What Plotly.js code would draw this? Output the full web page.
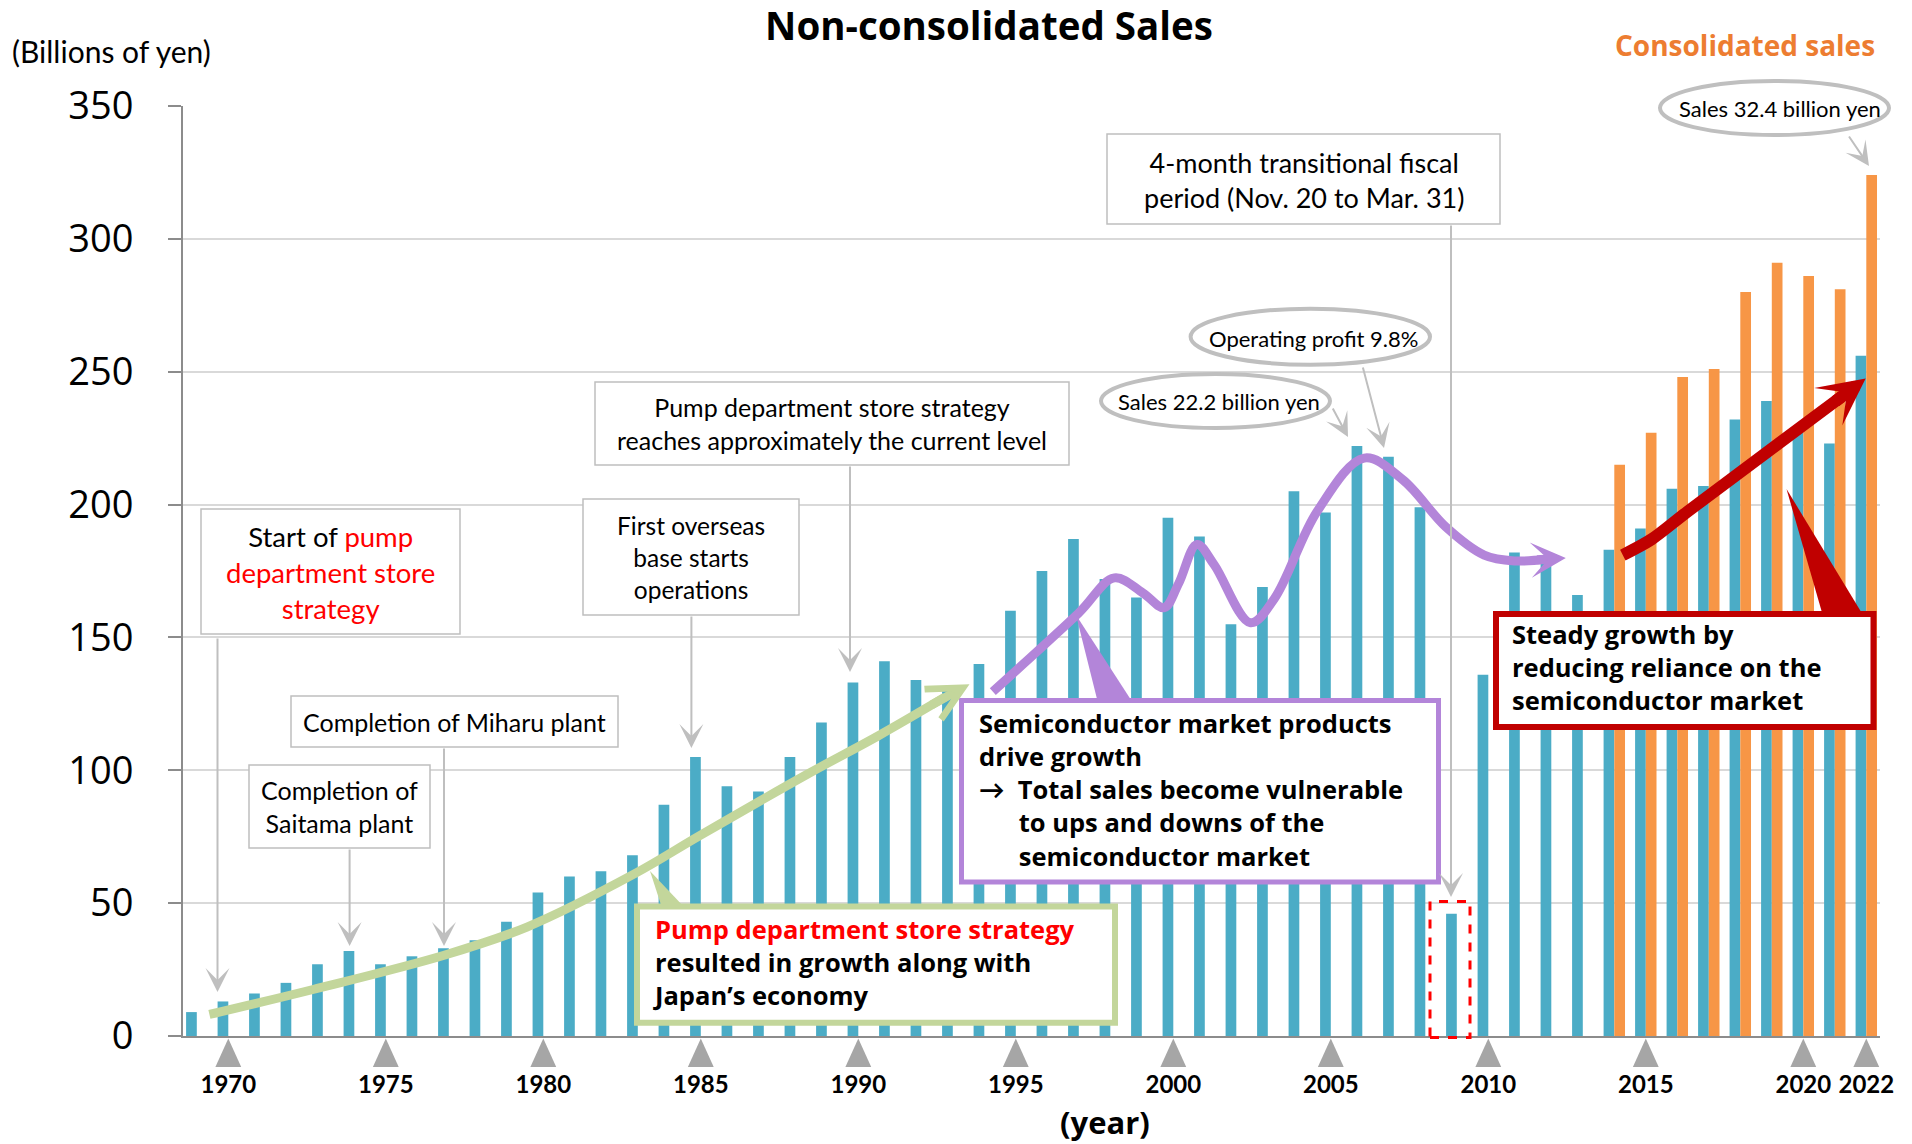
<!DOCTYPE html>
<html><head><meta charset="utf-8">
<script src="https://cdn.plot.ly/plotly-3.0.1.min.js"></script>
<style>html,body{margin:0;padding:0;background:#fff;} #chart{width:1912px;height:1144px;}</style>
</head><body><div id="chart"></div>
<script>
// ---- data ----
const years = [1969,1970,1971,1972,1973,1974,1975,1976,1977,1978,1979,1980,1981,1982,1983,1984,1985,1986,1987,1988,1989,1990,1991,1992,1993,1994,1995,1996,1997,1998,1999,2000,2001,2002,2003,2004,2005,2006,2007,2008,2009,2010,2011,2012,2013,2014,2015,2016,2017,2018,2019,2020,2021,2022];
const nonConsolidatedSales = [9,13,16,20,27,32,27,30,33,36,43,54,60,62,68,87,105,94,92,105,118,133,141,134,131,140,160,175,187,172,165,195,188,155,169,205,197,222,218,199,46,136,182,181,166,183,191,206,207,232,239,228,223,256];
const consolidatedYears = [2014,2015,2016,2017,2018,2019,2020,2021,2022];
const consolidatedSales = [215,227,248,251,280,291,286,281,324];
const tickYears = [1970,1975,1980,1985,1990,1995,2000,2005,2010,2015,2020,2022];
const tickLabels = ['1970','1975','1980','1985','1990','1995','2000','2005','2010','2015','2020','2022'];
const yTicks = [0,50,100,150,200,250,300,350];

// decorative trend arrows (year, value)
const greenTrendX = [1969.40,1972.69,1976.88,1979.48,1982.89,1984.98,1988.38,1990.64,1992.75];
const greenTrendY = [8.1,17.5,30.5,41.0,61.0,75.5,98.5,113.0,127.5];
const purpleTrendX = [1994.27,1996.99,1998.13,1999.03,1999.71,2000.17,2000.75,2001.30,2002.45,2003.21,2004.57,2006.06,2007.29,2008.65,2009.87,2010.83,2011.83];
const purpleTrendY = [129.6,159.1,172.4,166.8,161.2,170.3,185.0,177.3,155.5,164.6,197.5,217.5,209.3,191.6,181.0,178.8,179.4];
const redTrendX = [2014.27,2015.18,2016.34,2021.21];
const redTrendY = [181.0,186.9,197.5,240.6];

// ---- layout helpers (pixel -> paper) ----
const L = 183, R = 1880, T = 106, B = 1036;
const PX = v => (v - L) / (R - L);
const PY = v => (B - v) / (B - T);

const FONT = 'Lato, "Open Sans", sans-serif';
const BOLDFONT = '"Open Sans", Lato, sans-serif';
const GRAY = '#bfbfbf';
const PURPLE = '#b385d9';
const GREEN = '#c3d69b';
const DARKRED = '#c00000';
const RED = '#ff0000';
const NB = '\u00a0';

const traces = [
  {type:'bar', x:years, y:nonConsolidatedSales, marker:{color:'#4bacc6'}, hoverinfo:'skip', name:'Non-consolidated'},
  {type:'bar', x:consolidatedYears, y:consolidatedSales, marker:{color:'#f79646'}, hoverinfo:'skip', name:'Consolidated'},
  {type:'scatter', mode:'lines', x:greenTrendX, y:greenTrendY, line:{color:GREEN, width:9, shape:'spline', smoothing:1}, hoverinfo:'skip'},
  {type:'scatter', mode:'lines', x:purpleTrendX, y:purpleTrendY, line:{color:PURPLE, width:9, shape:'spline', smoothing:1}, hoverinfo:'skip'},
  {type:'scatter', mode:'lines', x:redTrendX, y:redTrendY, line:{color:DARKRED, width:12, shape:'spline', smoothing:0.8}, hoverinfo:'skip'}
];

function rect(x0,y0,x1,y1,color,width,fill,dash){
  return {type:'rect', xref:'paper', yref:'paper', x0:PX(x0), x1:PX(x1), y0:PY(y1), y1:PY(y0),
    line:{color:color, width:width, dash:dash||'solid'}, fillcolor:fill||'rgba(0,0,0,0)', layer:'above'};
}
function ellipse(x0,y0,x1,y1){
  return {type:'circle', xref:'paper', yref:'paper', x0:PX(x0), x1:PX(x1), y0:PY(y1), y1:PY(y0),
    line:{color:GRAY, width:4}, fillcolor:'white', layer:'above'};
}
function tri(p, color){
  return {type:'path', xref:'paper', yref:'paper', layer:'above', line:{width:0}, fillcolor:color,
    path:'M'+p.map(q=>PX(q[0])+','+PY(q[1])).join('L')+'Z'};
}

const shapes = [
  rect(201,509,460,634,GRAY,1.5,'white'),
  rect(291,696,618,747,GRAY,1.5,'white'),
  rect(249,765,430,848,GRAY,1.5,'white'),
  rect(583,499,799,615,GRAY,1.5,'white'),
  rect(595,382,1069,465,GRAY,1.5,'white'),
  rect(1107,134,1500,224,GRAY,1.5,'white'),
  ellipse(1101,374,1330,428),
  ellipse(1190.6,308.7,1430,364.7),
  ellipse(1660,81,1889,135),
  rect(1430,901.5,1470,1037.5,'#ff0000',3,null,'dash'),
  tri([[1076,615],[1098,703],[1133,703]], PURPLE),
  tri([[650,871],[662,908],[685,908]], GREEN),
  tri([[1786.5,489],[1823,616],[1863.6,616]], DARKRED),
  rect(961.5,700.5,1438.5,882,PURPLE,5,'white'),
  rect(637,906.6,1115,1022.7,GREEN,6,'white'),
  rect(1496,614,1873.5,727,DARKRED,6,'white')
];
// tick triangles under the x axis
tickYears.forEach(yr => {
  shapes.push({type:'path', xref:'x', yref:'paper', layer:'above', line:{width:0}, fillcolor:'#a6a6a6',
    path:'M'+(yr-0.41)+','+PY(1067)+'L'+(yr+0.41)+','+PY(1067)+'L'+yr+','+PY(1038.5)+'Z'});
});

function txt(text,x,y,size,opts){
  return Object.assign({text:text, xref:'paper', yref:'paper', x:PX(x), y:PY(y), showarrow:false,
    xanchor:'center', yanchor:'middle', align:'center', font:{family:FONT, size:size, color:'#000'}}, opts||{});
}
function bold(text,x,y,size,color,anchor){
  return {text:text, xref:'paper', yref:'paper', x:PX(x), y:PY(y), showarrow:false,
    xanchor:anchor||'left', yanchor:'middle', align:'left',
    font:{family:BOLDFONT, size:size, color:color||'#000', weight:'bold'}};
}
function grayArrow(x,y,ax,ay){
  return {text:'', xref:'paper', yref:'paper', x:PX(x), y:PY(y), ax:ax, ay:ay, showarrow:true,
    arrowhead:3, arrowsize:2, arrowwidth:2, arrowcolor:GRAY};
}
function dataArrow(tail, tip, color, width, head, size){
  return {text:'', xref:'x', yref:'y', axref:'x', ayref:'y', x:tip[0], y:tip[1], ax:tail[0], ay:tail[1],
    showarrow:true, arrowhead:head, arrowsize:size, arrowwidth:width, arrowcolor:color};
}

const annotations = [
  txt('(Billions of yen)', 10, 51, 30, {xanchor:'left'}),
  bold('Consolidated sales', 1877, 45, 28, '#ed7d31', 'right'),
  bold('(year)', 1105, 1122, 31, '#000', 'center'),
  txt('Start of <span style="color:'+RED+'">pump</span><br><span style="color:'+RED+'">department store</span><br><span style="color:'+RED+'">strategy</span>', 330.5, 572, 27.5),
  txt('Completion of Miharu plant', 454.5, 721.5, 25),
  txt('Completion of<br>Saitama plant', 339.5, 806, 25),
  txt('First overseas<br>base starts<br>operations', 691, 557, 24.5),
  txt('Pump department store strategy<br>reaches approximately the current level', 832, 423.5, 25),
  txt('4-month transitional fiscal<br>period (Nov. 20 to Mar. 31)', 1303.5, 180, 27),
  txt('Sales 22.2 billion yen', 1219, 402, 22),
  txt('Operating profit 9.8%', 1313, 338, 22),
  txt('Sales 32.4 billion yen', 1780, 108, 22),
  // purple callout
  bold('Semiconductor market products<br>drive growth<br>→'+NB+NB+'Total sales become vulnerable<br>'+NB.repeat(6)+'to ups and downs of the<br>'+NB.repeat(6)+'semiconductor market', 977, 789, 25.5),
  // green callout
  bold('<span style="color:'+RED+'">Pump department store strategy</span><br>resulted in growth along with<br>Japan’s economy', 651, 962.1, 25.5),
  // red callout
  bold('Steady growth by<br>reducing reliance on the<br>semiconductor market', 1509.6, 667, 25.5),
  grayArrow(217.5, 992, 0, -355),
  grayArrow(444, 946, 0, -199),
  grayArrow(349.6, 946, 0, -98),
  grayArrow(691.4, 748, 0, -133),
  grayArrow(850, 672, 0, -207),
  grayArrow(1451, 897, 0, -673),
  grayArrow(1348, 437, -16, -30),
  grayArrow(1384, 448, -21.5, -82),
  grayArrow(1869, 166, -21, -31),
  dataArrow([1992.28,124.3],[1993.53,132.4], GREEN, 9, 5, 0.75),
  dataArrow([2011.5,179.2],[2012.46,179.9], PURPLE, 9, 3, 0.65),
  dataArrow([2020.97,238.4],[2021.98,247.4], DARKRED, 12, 3, 0.65)
];

const layout = {
  width:1912, height:1144,
  margin:{l:L, r:1912-R, t:T, b:1144-B},
  paper_bgcolor:'#ffffff', plot_bgcolor:'#ffffff',
  barmode:'group', bargap:0.32, bargroupgap:0,
  showlegend:false,
  font:{family:FONT, color:'#000'},
  title:{text:'Non-consolidated Sales', font:{family:BOLDFONT, size:38.5, color:'#000', weight:'bold'},
         x:989/1912, xanchor:'center', xref:'container', y:1-27/1144, yanchor:'middle', yref:'container'},
  xaxis:{range:[1968.562,2022.435], tickmode:'array', tickvals:tickYears, ticktext:tickLabels, ticks:'',
         showgrid:false, zeroline:false, showline:true, linecolor:'#8c8c8c', linewidth:2,
         tickfont:{family:FONT, size:24, color:'#000', weight:'bold'}, ticklabelstandoff:26},
  yaxis:{range:[0,350], tickmode:'array', tickvals:yTicks, showgrid:true, gridcolor:'#d9d9d9', gridwidth:2,
         zeroline:false, showline:true, linecolor:'#8c8c8c', linewidth:2, ticks:'outside', ticklen:13,
         tickwidth:2, tickcolor:'#8c8c8c', tickfont:{family:'"Open Sans", sans-serif', size:38, color:'#000'},
         ticklabelstandoff:27},
  shapes:shapes,
  annotations:annotations
};

Plotly.newPlot('chart', traces, layout, {displayModeBar:false, staticPlot:true});
</script></body></html>
